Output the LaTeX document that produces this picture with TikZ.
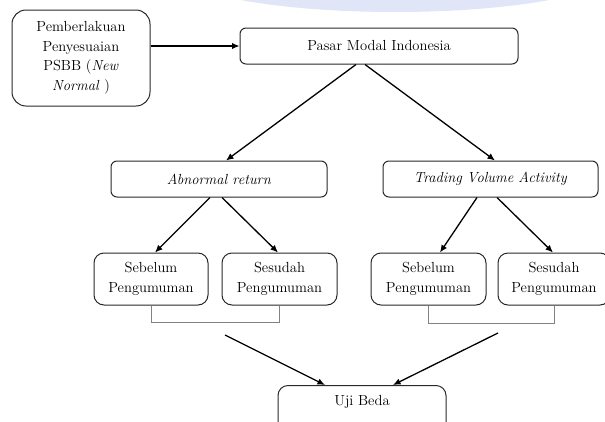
\documentclass[tikz,border=0pt]{standalone}
\usepackage{fontspec}
\usetikzlibrary{arrows.meta,calc}
\definecolor{wmblue}{RGB}{224,229,247}
\definecolor{boxline}{RGB}{40,40,40}
\definecolor{bracketgray}{RGB}{130,130,130}
\begin{document}
\begin{tikzpicture}[x=1pt,y=-1pt,
  every node/.style={font=\rmfamily\fontsize{14.6}{19.5}\selectfont},
  box/.style={draw=boxline,line width=1pt,align=center,inner sep=0pt},
  arr/.style={draw=black,line width=1.3pt,-{Latex[length=7.5pt,width=6.5pt]}},
  bracket/.style={draw=bracketgray,line width=0.9pt}]
\useasboundingbox (0,0) rectangle (605,421);
\clip (0,0) rectangle (605,421);
\fill[wmblue] (395,-32) ellipse (225 and 44);
% nodes
\node[box,rounded corners=14pt,minimum width=138pt,minimum height=96pt] (psbb) at (81,58)
  {Pemberlakuan\\Penyesuaian\\PSBB (\textit{New}\\\textit{Normal} )};
\node[box,rounded corners=6pt,minimum width=278pt,minimum height=36pt] (pasar) at (379,46) {Pasar Modal Indonesia};
\node[box,rounded corners=6pt,minimum width=216pt,minimum height=36pt] (ar) at (219,179) {\textit{Abnormal return}};
\node[box,rounded corners=6pt,minimum width=215pt,minimum height=36pt] (tva) at (490.5,179) {\textit{Trading Volume Activity}};
\node[box,rounded corners=10pt,minimum width=114pt,minimum height=52pt] (seb1) at (151,279) {Sebelum\\Pengumuman};
\node[box,rounded corners=10pt,minimum width=115pt,minimum height=52pt] (ses1) at (279.5,279) {Sesudah\\Pengumuman};
\node[box,rounded corners=10pt,minimum width=115pt,minimum height=52pt] (seb2) at (428.5,279) {Sebelum\\Pengumuman};
\node[box,rounded corners=10pt,minimum width=112pt,minimum height=52pt] (ses2) at (554,279) {Sesudah\\Pengumuman};
\node[box,rounded corners=10pt,minimum width=168pt,minimum height=60pt,anchor=north] (uji) at (362,385) {};
\node (ujitext) at (362,402) {Uji Beda};
% connectors
\draw[arr] (psbb.east |- pasar.west) -- (pasar.west);
\draw[arr] ([xshift=-23pt]pasar.south) -- ([xshift=7pt]ar.north);
\draw[arr] ([xshift=-14pt]pasar.south) -- ([xshift=4.5pt]tva.north);
\draw[arr] ([xshift=-9pt]ar.south) -- ([xshift=4pt]seb1.north);
\draw[arr] ([xshift=3pt]ar.south) -- ([xshift=-1.5pt]ses1.north);
\draw[arr] ([xshift=-13.5pt]tva.south) -- ([xshift=11.5pt]seb2.north);
\draw[arr] ([xshift=6.5pt]tva.south) -- ([xshift=-1pt]ses2.north);
\draw[bracket] (seb1.south) -- ++(0,17) -| (ses1.south);
\draw[bracket] (seb2.south) -- ++(0,18) -| (ses2.south);
\coordinate (b1) at (225,335);
\coordinate (b2) at (498,333);
\draw[arr] (b1) -- ([xshift=-37pt]uji.north);
\draw[arr] (b2) -- ([xshift=31pt]uji.north);
\end{tikzpicture}
\end{document}
